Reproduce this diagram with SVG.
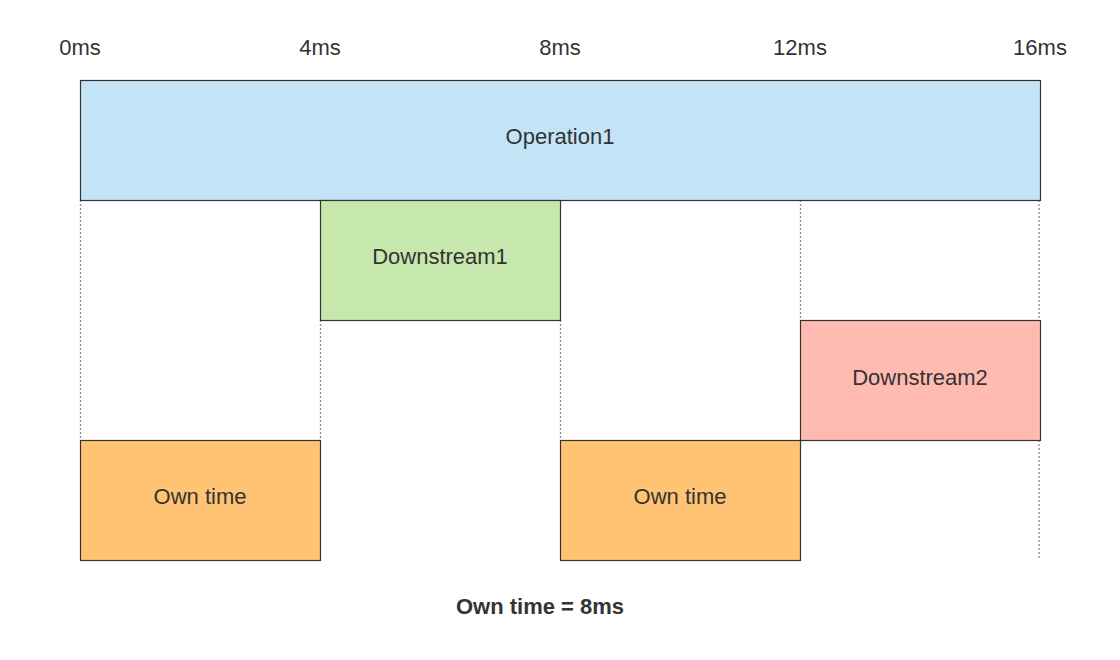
<svg xmlns="http://www.w3.org/2000/svg" width="1120" height="660" viewBox="0 0 1120 660">
<style>
text{font-family:"Liberation Sans",Arial,sans-serif;fill:#333;font-size:22px;text-anchor:middle}
.box{stroke:#333;stroke-width:1.2}
.dot{stroke:#888;stroke-width:1.3;stroke-dasharray:2 2;fill:none}
</style>
<rect width="1120" height="660" fill="#fff"/>
<g id="axis">
<text x="80" y="55">0ms</text>
<text x="320" y="55">4ms</text>
<text x="560" y="55">8ms</text>
<text x="800" y="55">12ms</text>
<text x="1040" y="55">16ms</text>
</g>
<g id="connectors">
<line class="dot" x1="80.5" y1="200" x2="80.5" y2="440"/>
<line class="dot" x1="320.5" y1="320" x2="320.5" y2="440"/>
<line class="dot" x1="560.5" y1="320" x2="560.5" y2="440"/>
<line class="dot" x1="800.5" y1="200" x2="800.5" y2="320"/>
<line class="dot" x1="1039" y1="200" x2="1039" y2="320"/>
<line class="dot" x1="1039" y1="440" x2="1039" y2="560"/>
</g>
<g id="operation1">
<rect class="box" x="80.5" y="80.5" width="960" height="120" fill="#c2e4f6"/>
<text x="560" y="144">Operation1</text>
</g>
<g id="downstream1">
<rect class="box" x="320.5" y="200.5" width="240" height="120" fill="#c7e8ad"/>
<text x="440" y="264">Downstream1</text>
</g>
<g id="downstream2">
<rect class="box" x="800.5" y="320.5" width="240" height="120" fill="#ffbbb1"/>
<text x="920" y="385">Downstream2</text>
</g>
<g id="own1">
<rect class="box" x="80.5" y="440.5" width="240" height="120" fill="#ffc374"/>
<text x="200" y="504">Own time</text>
</g>
<g id="own2">
<rect class="box" x="560.5" y="440.5" width="240" height="120" fill="#ffc374"/>
<text x="680" y="504">Own time</text>
</g>
<g id="summary">
<text x="540" y="614" font-weight="bold">Own time = 8ms</text>
</g>
</svg>
